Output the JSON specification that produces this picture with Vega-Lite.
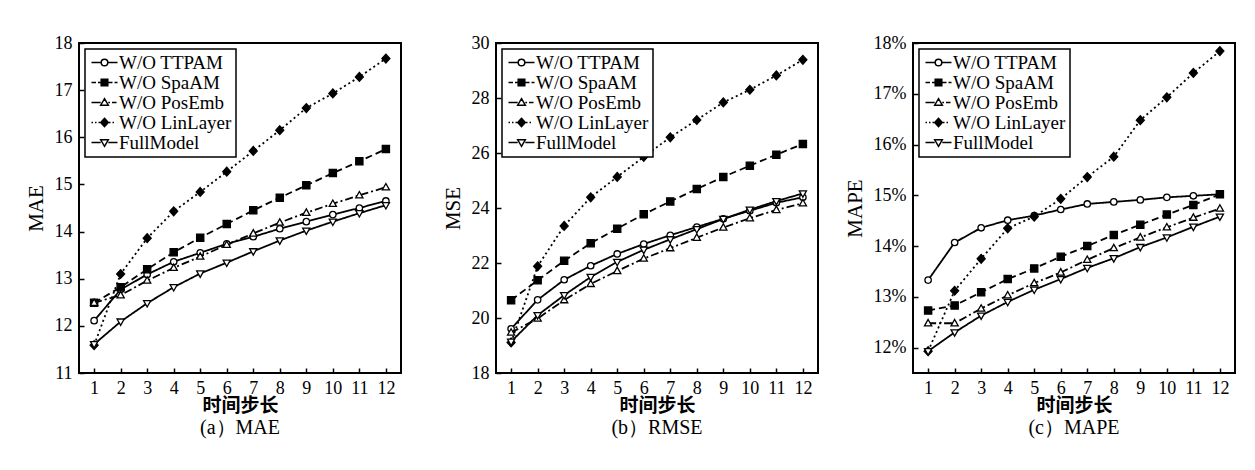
{
  "$schema": "https://vega.github.io/schema/vega-lite/v6.json",
  "padding": {"left": 24, "top": 33, "right": 5, "bottom": 5},
  "background": "white",
  "datasets": {
    "mae": [
      {"s":"W/O TTPAM","t":1,"v":12.11},{"s":"W/O TTPAM","t":2,"v":12.77},{"s":"W/O TTPAM","t":3,"v":13.09},{"s":"W/O TTPAM","t":4,"v":13.36},{"s":"W/O TTPAM","t":5,"v":13.55},{"s":"W/O TTPAM","t":6,"v":13.74},{"s":"W/O TTPAM","t":7,"v":13.89},{"s":"W/O TTPAM","t":8,"v":14.06},{"s":"W/O TTPAM","t":9,"v":14.21},{"s":"W/O TTPAM","t":10,"v":14.36},{"s":"W/O TTPAM","t":11,"v":14.5},{"s":"W/O TTPAM","t":12,"v":14.65},
      {"s":"W/O SpaAM","t":1,"v":12.49},{"s":"W/O SpaAM","t":2,"v":12.82},{"s":"W/O SpaAM","t":3,"v":13.2},{"s":"W/O SpaAM","t":4,"v":13.56},{"s":"W/O SpaAM","t":5,"v":13.87},{"s":"W/O SpaAM","t":6,"v":14.16},{"s":"W/O SpaAM","t":7,"v":14.45},{"s":"W/O SpaAM","t":8,"v":14.72},{"s":"W/O SpaAM","t":9,"v":14.98},{"s":"W/O SpaAM","t":10,"v":15.24},{"s":"W/O SpaAM","t":11,"v":15.49},{"s":"W/O SpaAM","t":12,"v":15.75},
      {"s":"W/O PosEmb","t":1,"v":12.49},{"s":"W/O PosEmb","t":2,"v":12.65},{"s":"W/O PosEmb","t":3,"v":12.96},{"s":"W/O PosEmb","t":4,"v":13.23},{"s":"W/O PosEmb","t":5,"v":13.47},{"s":"W/O PosEmb","t":6,"v":13.72},{"s":"W/O PosEmb","t":7,"v":13.96},{"s":"W/O PosEmb","t":8,"v":14.19},{"s":"W/O PosEmb","t":9,"v":14.4},{"s":"W/O PosEmb","t":10,"v":14.59},{"s":"W/O PosEmb","t":11,"v":14.77},{"s":"W/O PosEmb","t":12,"v":14.94},
      {"s":"W/O LinLayer","t":1,"v":11.59},{"s":"W/O LinLayer","t":2,"v":13.1},{"s":"W/O LinLayer","t":3,"v":13.86},{"s":"W/O LinLayer","t":4,"v":14.43},{"s":"W/O LinLayer","t":5,"v":14.84},{"s":"W/O LinLayer","t":6,"v":15.27},{"s":"W/O LinLayer","t":7,"v":15.71},{"s":"W/O LinLayer","t":8,"v":16.15},{"s":"W/O LinLayer","t":9,"v":16.62},{"s":"W/O LinLayer","t":10,"v":16.93},{"s":"W/O LinLayer","t":11,"v":17.28},{"s":"W/O LinLayer","t":12,"v":17.67},
      {"s":"FullModel","t":1,"v":11.61},{"s":"FullModel","t":2,"v":12.09},{"s":"FullModel","t":3,"v":12.48},{"s":"FullModel","t":4,"v":12.82},{"s":"FullModel","t":5,"v":13.11},{"s":"FullModel","t":6,"v":13.34},{"s":"FullModel","t":7,"v":13.58},{"s":"FullModel","t":8,"v":13.81},{"s":"FullModel","t":9,"v":14.02},{"s":"FullModel","t":10,"v":14.21},{"s":"FullModel","t":11,"v":14.39},{"s":"FullModel","t":12,"v":14.56}
    ],
    "mse": [
      {"s":"W/O TTPAM","t":1,"v":19.61},{"s":"W/O TTPAM","t":2,"v":20.66},{"s":"W/O TTPAM","t":3,"v":21.39},{"s":"W/O TTPAM","t":4,"v":21.9},{"s":"W/O TTPAM","t":5,"v":22.33},{"s":"W/O TTPAM","t":6,"v":22.69},{"s":"W/O TTPAM","t":7,"v":23.01},{"s":"W/O TTPAM","t":8,"v":23.31},{"s":"W/O TTPAM","t":9,"v":23.61},{"s":"W/O TTPAM","t":10,"v":23.9},{"s":"W/O TTPAM","t":11,"v":24.19},{"s":"W/O TTPAM","t":12,"v":24.39},
      {"s":"W/O SpaAM","t":1,"v":20.65},{"s":"W/O SpaAM","t":2,"v":21.37},{"s":"W/O SpaAM","t":3,"v":22.08},{"s":"W/O SpaAM","t":4,"v":22.72},{"s":"W/O SpaAM","t":5,"v":23.25},{"s":"W/O SpaAM","t":6,"v":23.77},{"s":"W/O SpaAM","t":7,"v":24.24},{"s":"W/O SpaAM","t":8,"v":24.69},{"s":"W/O SpaAM","t":9,"v":25.13},{"s":"W/O SpaAM","t":10,"v":25.54},{"s":"W/O SpaAM","t":11,"v":25.94},{"s":"W/O SpaAM","t":12,"v":26.33},
      {"s":"W/O PosEmb","t":1,"v":19.47},{"s":"W/O PosEmb","t":2,"v":19.98},{"s":"W/O PosEmb","t":3,"v":20.65},{"s":"W/O PosEmb","t":4,"v":21.24},{"s":"W/O PosEmb","t":5,"v":21.71},{"s":"W/O PosEmb","t":6,"v":22.16},{"s":"W/O PosEmb","t":7,"v":22.54},{"s":"W/O PosEmb","t":8,"v":22.92},{"s":"W/O PosEmb","t":9,"v":23.29},{"s":"W/O PosEmb","t":10,"v":23.63},{"s":"W/O PosEmb","t":11,"v":23.93},{"s":"W/O PosEmb","t":12,"v":24.17},
      {"s":"W/O LinLayer","t":1,"v":19.11},{"s":"W/O LinLayer","t":2,"v":21.88},{"s":"W/O LinLayer","t":3,"v":23.35},{"s":"W/O LinLayer","t":4,"v":24.39},{"s":"W/O LinLayer","t":5,"v":25.13},{"s":"W/O LinLayer","t":6,"v":25.86},{"s":"W/O LinLayer","t":7,"v":26.57},{"s":"W/O LinLayer","t":8,"v":27.2},{"s":"W/O LinLayer","t":9,"v":27.84},{"s":"W/O LinLayer","t":10,"v":28.3},{"s":"W/O LinLayer","t":11,"v":28.82},{"s":"W/O LinLayer","t":12,"v":29.39},
      {"s":"FullModel","t":1,"v":19.14},{"s":"FullModel","t":2,"v":20.1},{"s":"FullModel","t":3,"v":20.83},{"s":"FullModel","t":4,"v":21.49},{"s":"FullModel","t":5,"v":22.04},{"s":"FullModel","t":6,"v":22.48},{"s":"FullModel","t":7,"v":22.86},{"s":"FullModel","t":8,"v":23.23},{"s":"FullModel","t":9,"v":23.6},{"s":"FullModel","t":10,"v":23.94},{"s":"FullModel","t":11,"v":24.25},{"s":"FullModel","t":12,"v":24.53}
    ],
    "mape": [
      {"s":"W/O TTPAM","t":1,"v":13.33},{"s":"W/O TTPAM","t":2,"v":14.07},{"s":"W/O TTPAM","t":3,"v":14.36},{"s":"W/O TTPAM","t":4,"v":14.51},{"s":"W/O TTPAM","t":5,"v":14.6},{"s":"W/O TTPAM","t":6,"v":14.72},{"s":"W/O TTPAM","t":7,"v":14.83},{"s":"W/O TTPAM","t":8,"v":14.87},{"s":"W/O TTPAM","t":9,"v":14.91},{"s":"W/O TTPAM","t":10,"v":14.96},{"s":"W/O TTPAM","t":11,"v":14.99},{"s":"W/O TTPAM","t":12,"v":15.02},
      {"s":"W/O SpaAM","t":1,"v":12.73},{"s":"W/O SpaAM","t":2,"v":12.83},{"s":"W/O SpaAM","t":3,"v":13.09},{"s":"W/O SpaAM","t":4,"v":13.35},{"s":"W/O SpaAM","t":5,"v":13.56},{"s":"W/O SpaAM","t":6,"v":13.79},{"s":"W/O SpaAM","t":7,"v":14.0},{"s":"W/O SpaAM","t":8,"v":14.22},{"s":"W/O SpaAM","t":9,"v":14.42},{"s":"W/O SpaAM","t":10,"v":14.62},{"s":"W/O SpaAM","t":11,"v":14.81},{"s":"W/O SpaAM","t":12,"v":15.02},
      {"s":"W/O PosEmb","t":1,"v":12.48},{"s":"W/O PosEmb","t":2,"v":12.48},{"s":"W/O PosEmb","t":3,"v":12.77},{"s":"W/O PosEmb","t":4,"v":13.03},{"s":"W/O PosEmb","t":5,"v":13.27},{"s":"W/O PosEmb","t":6,"v":13.48},{"s":"W/O PosEmb","t":7,"v":13.73},{"s":"W/O PosEmb","t":8,"v":13.96},{"s":"W/O PosEmb","t":9,"v":14.17},{"s":"W/O PosEmb","t":10,"v":14.37},{"s":"W/O PosEmb","t":11,"v":14.56},{"s":"W/O PosEmb","t":12,"v":14.74},
      {"s":"W/O LinLayer","t":1,"v":11.93},{"s":"W/O LinLayer","t":2,"v":13.12},{"s":"W/O LinLayer","t":3,"v":13.75},{"s":"W/O LinLayer","t":4,"v":14.35},{"s":"W/O LinLayer","t":5,"v":14.58},{"s":"W/O LinLayer","t":6,"v":14.93},{"s":"W/O LinLayer","t":7,"v":15.36},{"s":"W/O LinLayer","t":8,"v":15.76},{"s":"W/O LinLayer","t":9,"v":16.48},{"s":"W/O LinLayer","t":10,"v":16.93},{"s":"W/O LinLayer","t":11,"v":17.41},{"s":"W/O LinLayer","t":12,"v":17.84},
      {"s":"FullModel","t":1,"v":11.93},{"s":"FullModel","t":2,"v":12.3},{"s":"FullModel","t":3,"v":12.63},{"s":"FullModel","t":4,"v":12.9},{"s":"FullModel","t":5,"v":13.14},{"s":"FullModel","t":6,"v":13.35},{"s":"FullModel","t":7,"v":13.57},{"s":"FullModel","t":8,"v":13.76},{"s":"FullModel","t":9,"v":13.98},{"s":"FullModel","t":10,"v":14.17},{"s":"FullModel","t":11,"v":14.38},{"s":"FullModel","t":12,"v":14.58}
    ]
  },
  "hconcat": [
    {
      "width": 322, "height": 330,
      "data": {"name": "mae"},
      "title": {"text": "(a）MAE"},
      "encoding": {
        "x": {"field": "t", "type": "quantitative", "scale": {"domain": [0.43, 12.57], "nice": false, "zero": false}, "axis": {"values": [1,2,3,4,5,6,7,8,9,10,11,12], "title": "时间步长"}},
        "y": {"field": "v", "type": "quantitative", "scale": {"domain": [11, 18], "nice": false, "zero": false}, "axis": {"values": [11,12,13,14,15,16,17,18], "title": "MAE"}}
      },
      "resolve": {"scale": {"shape": "independent", "fill": "independent", "strokeDash": "independent"}},
      "layer": [
        {"mark": {"type": "line", "color": "black", "strokeWidth": 1.8},
         "encoding": {"strokeDash": {"field": "s", "type": "nominal", "scale": {"domain": ["FullModel","W/O TTPAM","W/O SpaAM","W/O PosEmb","W/O LinLayer"], "range": [[1,0],[1,0],[7,4],[8,3,2,3],[2,3]]}, "legend": null}}},
        {"mark": {"type": "point", "filled": true, "size": 64, "stroke": "black", "strokeWidth": 1.3, "opacity": 1},
         "encoding": {
           "fill": {"field": "s", "type": "nominal", "scale": {"domain": ["W/O LinLayer","FullModel","W/O TTPAM","W/O SpaAM","W/O PosEmb"], "range": ["black","white","white","black","white"]}, "legend": null},
           "shape": {"field": "s", "type": "nominal", "scale": {"domain": ["W/O PosEmb","W/O TTPAM","W/O SpaAM","W/O LinLayer","FullModel"], "range": ["M0,-0.95L0.9,0.65L-0.9,0.65Z","M0.8,0A0.8,0.8,0,1,1,-0.8,0A0.8,0.8,0,1,1,0.8,0Z","M-0.9,-0.9H0.9V0.9H-0.9Z","M0,-1.1L1,0L0,1.1L-1,0Z","M0,0.95L0.9,-0.65L-0.9,-0.65Z"]}, "legend": null}
         }},
        {"mark": {"type": "point", "filled": false, "size": 1, "stroke": "black", "color": "black", "opacity": 0},
         "encoding": {
           "shape": {"field": "s", "type": "nominal", "scale": {"domain": ["W/O TTPAM","W/O SpaAM","W/O PosEmb","W/O LinLayer","FullModel"], "range": [
             "M-1.625,0H-0.4125M0.4125,0H1.625M0.4125,0A0.4125,0.4125,0,1,1,-0.4125,0A0.4125,0.4125,0,1,1,0.4125,0Z",
             "M-1.625,0H-1.0625M-0.8125,0H-0.4125M0.4125,0H1M1.25,0H1.625M-0.4125,-0.4125H0.4125V0.4125H-0.4125ZM-0.4125,-0.3125H0.4125M-0.4125,-0.1875H0.4125M-0.4125,-0.0625H0.4125M-0.4125,0.0625H0.4125M-0.4125,0.1875H0.4125M-0.4125,0.3125H0.4125",
             "M-1.625,0H-0.475M0.475,0H0.6875M0.9375,0H1.5M0,-0.475L0.475,0.3375L-0.475,0.3375Z",
             "M-1.625,0H-1.4375M-1.1875,0H-1M-0.75,0H-0.5625M0.5625,0H0.75M1,0H1.1875M0,-0.525L0.475,0L0,0.525L-0.475,0ZM-0.419,-0.0625H0.419M-0.419,0.0625H0.419M-0.305,-0.1875H0.305M-0.305,0.1875H0.305M-0.1925,-0.3125H0.1925M-0.1925,0.3125H0.1925M-0.079,-0.4375H0.079M-0.079,0.4375H0.079",
             "M-1.625,0H-0.475M0.475,0H1.625M0,0.475L0.475,-0.3375L-0.475,-0.3375Z"]}, "legend": {"title": null}}
         }}
      ]
    },
    {
      "width": 322, "height": 330,
      "data": {"name": "mse"},
      "title": {"text": "(b）RMSE"},
      "encoding": {
        "x": {"field": "t", "type": "quantitative", "scale": {"domain": [0.43, 12.57], "nice": false, "zero": false}, "axis": {"values": [1,2,3,4,5,6,7,8,9,10,11,12], "title": "时间步长"}},
        "y": {"field": "v", "type": "quantitative", "scale": {"domain": [18, 30], "nice": false, "zero": false}, "axis": {"values": [18,20,22,24,26,28,30], "title": "MSE"}}
      },
      "resolve": {"scale": {"shape": "independent", "fill": "independent", "strokeDash": "independent"}},
      "layer": [
        {"mark": {"type": "line", "color": "black", "strokeWidth": 1.8},
         "encoding": {"strokeDash": {"field": "s", "type": "nominal", "scale": {"domain": ["FullModel","W/O TTPAM","W/O SpaAM","W/O PosEmb","W/O LinLayer"], "range": [[1,0],[1,0],[7,4],[8,3,2,3],[2,3]]}, "legend": null}}},
        {"mark": {"type": "point", "filled": true, "size": 64, "stroke": "black", "strokeWidth": 1.3, "opacity": 1},
         "encoding": {
           "fill": {"field": "s", "type": "nominal", "scale": {"domain": ["W/O LinLayer","FullModel","W/O TTPAM","W/O SpaAM","W/O PosEmb"], "range": ["black","white","white","black","white"]}, "legend": null},
           "shape": {"field": "s", "type": "nominal", "scale": {"domain": ["W/O PosEmb","W/O TTPAM","W/O SpaAM","W/O LinLayer","FullModel"], "range": ["M0,-0.95L0.9,0.65L-0.9,0.65Z","M0.8,0A0.8,0.8,0,1,1,-0.8,0A0.8,0.8,0,1,1,0.8,0Z","M-0.9,-0.9H0.9V0.9H-0.9Z","M0,-1.1L1,0L0,1.1L-1,0Z","M0,0.95L0.9,-0.65L-0.9,-0.65Z"]}, "legend": null}
         }},
        {"mark": {"type": "point", "filled": false, "size": 1, "stroke": "black", "color": "black", "opacity": 0},
         "encoding": {
           "shape": {"field": "s", "type": "nominal", "scale": {"domain": ["W/O TTPAM","W/O SpaAM","W/O PosEmb","W/O LinLayer","FullModel"], "range": [
             "M-1.625,0H-0.4125M0.4125,0H1.625M0.4125,0A0.4125,0.4125,0,1,1,-0.4125,0A0.4125,0.4125,0,1,1,0.4125,0Z",
             "M-1.625,0H-1.0625M-0.8125,0H-0.4125M0.4125,0H1M1.25,0H1.625M-0.4125,-0.4125H0.4125V0.4125H-0.4125ZM-0.4125,-0.3125H0.4125M-0.4125,-0.1875H0.4125M-0.4125,-0.0625H0.4125M-0.4125,0.0625H0.4125M-0.4125,0.1875H0.4125M-0.4125,0.3125H0.4125",
             "M-1.625,0H-0.475M0.475,0H0.6875M0.9375,0H1.5M0,-0.475L0.475,0.3375L-0.475,0.3375Z",
             "M-1.625,0H-1.4375M-1.1875,0H-1M-0.75,0H-0.5625M0.5625,0H0.75M1,0H1.1875M0,-0.525L0.475,0L0,0.525L-0.475,0ZM-0.419,-0.0625H0.419M-0.419,0.0625H0.419M-0.305,-0.1875H0.305M-0.305,0.1875H0.305M-0.1925,-0.3125H0.1925M-0.1925,0.3125H0.1925M-0.079,-0.4375H0.079M-0.079,0.4375H0.079",
             "M-1.625,0H-0.475M0.475,0H1.625M0,0.475L0.475,-0.3375L-0.475,-0.3375Z"]}, "legend": {"title": null}}
         }}
      ]
    },
    {
      "width": 322, "height": 330,
      "data": {"name": "mape"},
      "title": {"text": "(c）MAPE"},
      "encoding": {
        "x": {"field": "t", "type": "quantitative", "scale": {"domain": [0.43, 12.57], "nice": false, "zero": false}, "axis": {"values": [1,2,3,4,5,6,7,8,9,10,11,12], "title": "时间步长"}},
        "y": {"field": "v", "type": "quantitative", "scale": {"domain": [11.5, 18], "nice": false, "zero": false}, "axis": {"values": [12,13,14,15,16,17,18], "title": "MAPE", "labelExpr": "datum.value + '%'"}}
      },
      "resolve": {"scale": {"shape": "independent", "fill": "independent", "strokeDash": "independent"}},
      "layer": [
        {"mark": {"type": "line", "color": "black", "strokeWidth": 1.8},
         "encoding": {"strokeDash": {"field": "s", "type": "nominal", "scale": {"domain": ["FullModel","W/O TTPAM","W/O SpaAM","W/O PosEmb","W/O LinLayer"], "range": [[1,0],[1,0],[7,4],[8,3,2,3],[2,3]]}, "legend": null}}},
        {"mark": {"type": "point", "filled": true, "size": 64, "stroke": "black", "strokeWidth": 1.3, "opacity": 1},
         "encoding": {
           "fill": {"field": "s", "type": "nominal", "scale": {"domain": ["W/O LinLayer","FullModel","W/O TTPAM","W/O SpaAM","W/O PosEmb"], "range": ["black","white","white","black","white"]}, "legend": null},
           "shape": {"field": "s", "type": "nominal", "scale": {"domain": ["W/O PosEmb","W/O TTPAM","W/O SpaAM","W/O LinLayer","FullModel"], "range": ["M0,-0.95L0.9,0.65L-0.9,0.65Z","M0.8,0A0.8,0.8,0,1,1,-0.8,0A0.8,0.8,0,1,1,0.8,0Z","M-0.9,-0.9H0.9V0.9H-0.9Z","M0,-1.1L1,0L0,1.1L-1,0Z","M0,0.95L0.9,-0.65L-0.9,-0.65Z"]}, "legend": null}
         }},
        {"mark": {"type": "point", "filled": false, "size": 1, "stroke": "black", "color": "black", "opacity": 0},
         "encoding": {
           "shape": {"field": "s", "type": "nominal", "scale": {"domain": ["W/O TTPAM","W/O SpaAM","W/O PosEmb","W/O LinLayer","FullModel"], "range": [
             "M-1.625,0H-0.4125M0.4125,0H1.625M0.4125,0A0.4125,0.4125,0,1,1,-0.4125,0A0.4125,0.4125,0,1,1,0.4125,0Z",
             "M-1.625,0H-1.0625M-0.8125,0H-0.4125M0.4125,0H1M1.25,0H1.625M-0.4125,-0.4125H0.4125V0.4125H-0.4125ZM-0.4125,-0.3125H0.4125M-0.4125,-0.1875H0.4125M-0.4125,-0.0625H0.4125M-0.4125,0.0625H0.4125M-0.4125,0.1875H0.4125M-0.4125,0.3125H0.4125",
             "M-1.625,0H-0.475M0.475,0H0.6875M0.9375,0H1.5M0,-0.475L0.475,0.3375L-0.475,0.3375Z",
             "M-1.625,0H-1.4375M-1.1875,0H-1M-0.75,0H-0.5625M0.5625,0H0.75M1,0H1.1875M0,-0.525L0.475,0L0,0.525L-0.475,0ZM-0.419,-0.0625H0.419M-0.419,0.0625H0.419M-0.305,-0.1875H0.305M-0.305,0.1875H0.305M-0.1925,-0.3125H0.1925M-0.1925,0.3125H0.1925M-0.079,-0.4375H0.079M-0.079,0.4375H0.079",
             "M-1.625,0H-0.475M0.475,0H1.625M0,0.475L0.475,-0.3375L-0.475,-0.3375Z"]}, "legend": {"title": null}}
         }}
      ]
    }
  ],
  "spacing": 95,
  "bounds": "flush",
  "resolve": {
    "scale": {"shape": "independent", "fill": "independent", "strokeDash": "independent"},
    "legend": {"shape": "independent", "fill": "independent", "strokeDash": "independent"}
  },
  "config": {
    "view": {"stroke": "black", "strokeWidth": 2},
    "axis": {"domain": false, "grid": false, "ticks": true, "tickColor": "black", "tickSize": -5, "tickWidth": 1.5, "labelFont": "Liberation Serif", "labelFontSize": 18, "labelColor": "black", "labelFlush": false, "titleFont": "Liberation Serif", "titleFontSize": 21, "titleFontWeight": "normal", "titleColor": "black"},
    "axisX": {"labelPadding": 11, "titleFont": "Noto Sans CJK SC", "titleFontWeight": "bold", "titleFontSize": 19, "titlePadding": -1},
    "axisY": {"labelPadding": 12, "titlePadding": 8},
    "title": {"orient": "bottom", "anchor": "middle", "font": "Liberation Serif", "fontSize": 20, "fontWeight": "normal", "color": "black", "offset": 3},
    "legend": {"orient": "top-left", "offset": 6, "strokeColor": "black", "strokeWidth": 1.5, "fillColor": "white", "padding": 4, "labelFont": "Liberation Serif", "labelFontSize": 19, "labelColor": "black", "symbolSize": 256, "symbolOpacity": 1, "symbolStrokeColor": "black", "symbolFillColor": "white", "symbolStrokeWidth": 1.5, "rowPadding": -2, "labelOffset": 5, "symbolOffset": 6, "cornerRadius": 0}
  }
}
